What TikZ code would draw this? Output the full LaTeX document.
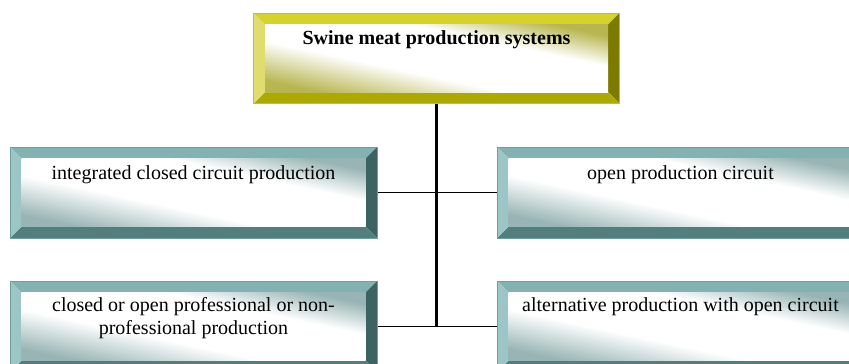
\documentclass[tikz,border=0pt]{standalone}
\usepackage{fontspec}
\setmainfont{Liberation Serif}
\usetikzlibrary{calc}
\definecolor{yT}{HTML}{D6D22A}
\definecolor{yL}{HTML}{E0DC6E}
\definecolor{yR}{HTML}{7C7A00}
\definecolor{yB}{HTML}{ACAA00}
\definecolor{yO}{HTML}{C8C400}
\definecolor{yF}{HTML}{B8B650}
\definecolor{tT}{HTML}{82B2B2}
\definecolor{tL}{HTML}{9CC6C6}
\definecolor{tR}{HTML}{3E6262}
\definecolor{tB}{HTML}{527E7E}
\definecolor{tO}{HTML}{6E9E9E}
\definecolor{tF}{HTML}{98B4B4}
\pgfdeclareverticalshading{yface}{100bp}{color(0bp)=(yF); color(25bp)=(yF); color(42bp)=(white); color(62bp)=(white); color(75bp)=(yF); color(100bp)=(yF)}
\pgfdeclareverticalshading{tface}{100bp}{color(0bp)=(tF); color(25bp)=(tF); color(42bp)=(white); color(62bp)=(white); color(75bp)=(tF); color(100bp)=(tF)}
\newcommand\bw{11.5}
\newcommand\bevelbox[2]{%
  \coordinate (#1-a) at ($(#1.north west)+(\bw,\bw)$);
  \coordinate (#1-b) at ($(#1.north east)+(-\bw,\bw)$);
  \coordinate (#1-c) at ($(#1.south east)+(-\bw,-\bw)$);
  \coordinate (#1-d) at ($(#1.south west)+(\bw,-\bw)$);
  \fill[#2T] (#1.north west) -- (#1.north east) -- (#1-b) -- (#1-a) -- cycle;
  \fill[#2R] (#1.north east) -- (#1.south east) -- (#1-c) -- (#1-b) -- cycle;
  \fill[#2B] (#1.south east) -- (#1.south west) -- (#1-d) -- (#1-c) -- cycle;
  \fill[#2L] (#1.south west) -- (#1.north west) -- (#1-a) -- (#1-d) -- cycle;
  \shade[shading=#2face, shading angle=-12] (#1-a) rectangle (#1-c);
  \draw[#2O, line width=0.8pt] (#1.north west) rectangle (#1.south east);
}
\tikzset{
  box/.style={rectangle, inner sep=0pt, outer sep=0pt, minimum width=367pt, minimum height=91pt},
  lbl/.style={inner sep=0pt, font=\fontsize{20}{23}\selectfont, align=center},
  vline/.style={line width=2.5pt, black},
  hline/.style={line width=1.6pt, black}
}
\begin{document}
\begin{tikzpicture}[x=1pt,y=-1pt]
\useasboundingbox (0,0) rectangle (849,364);
\clip (0,0) rectangle (849,364);
\node[box, minimum width=366pt, minimum height=90.5pt] (top) at (436.5,58.25) {};
\node[box] (l1) at (193.5,192.5) {};
\node[box] (r1) at (680.5,192.5) {};
\node[box] (l2) at (193.5,326.5) {};
\node[box] (r2) at (680.5,326.5) {};
\draw[vline] (top.south) -- (top.south |- l2.east);
\draw[hline] (l1.east) -- (r1.west);
\draw[hline] (l2.east) -- (r2.west);
\bevelbox{top}{y}
\bevelbox{l1}{t}
\bevelbox{r1}{t}
\bevelbox{l2}{t}
\bevelbox{r2}{t}
\node[lbl, anchor=base] (t0) at (436.5,44) {\textbf{Swine meat production systems}};
\node[lbl, anchor=base] (t1) at (193.5,179) {integrated closed circuit production};
\node[lbl, anchor=base] (t2) at (680.5,179) {open production circuit};
\node[lbl, anchor=base] (t3) at (193.5,334) {closed or open professional or non-\\professional production};
\node[lbl, anchor=base] (t4) at (680.5,311) {alternative production with open circuit};
\end{tikzpicture}
\end{document}
